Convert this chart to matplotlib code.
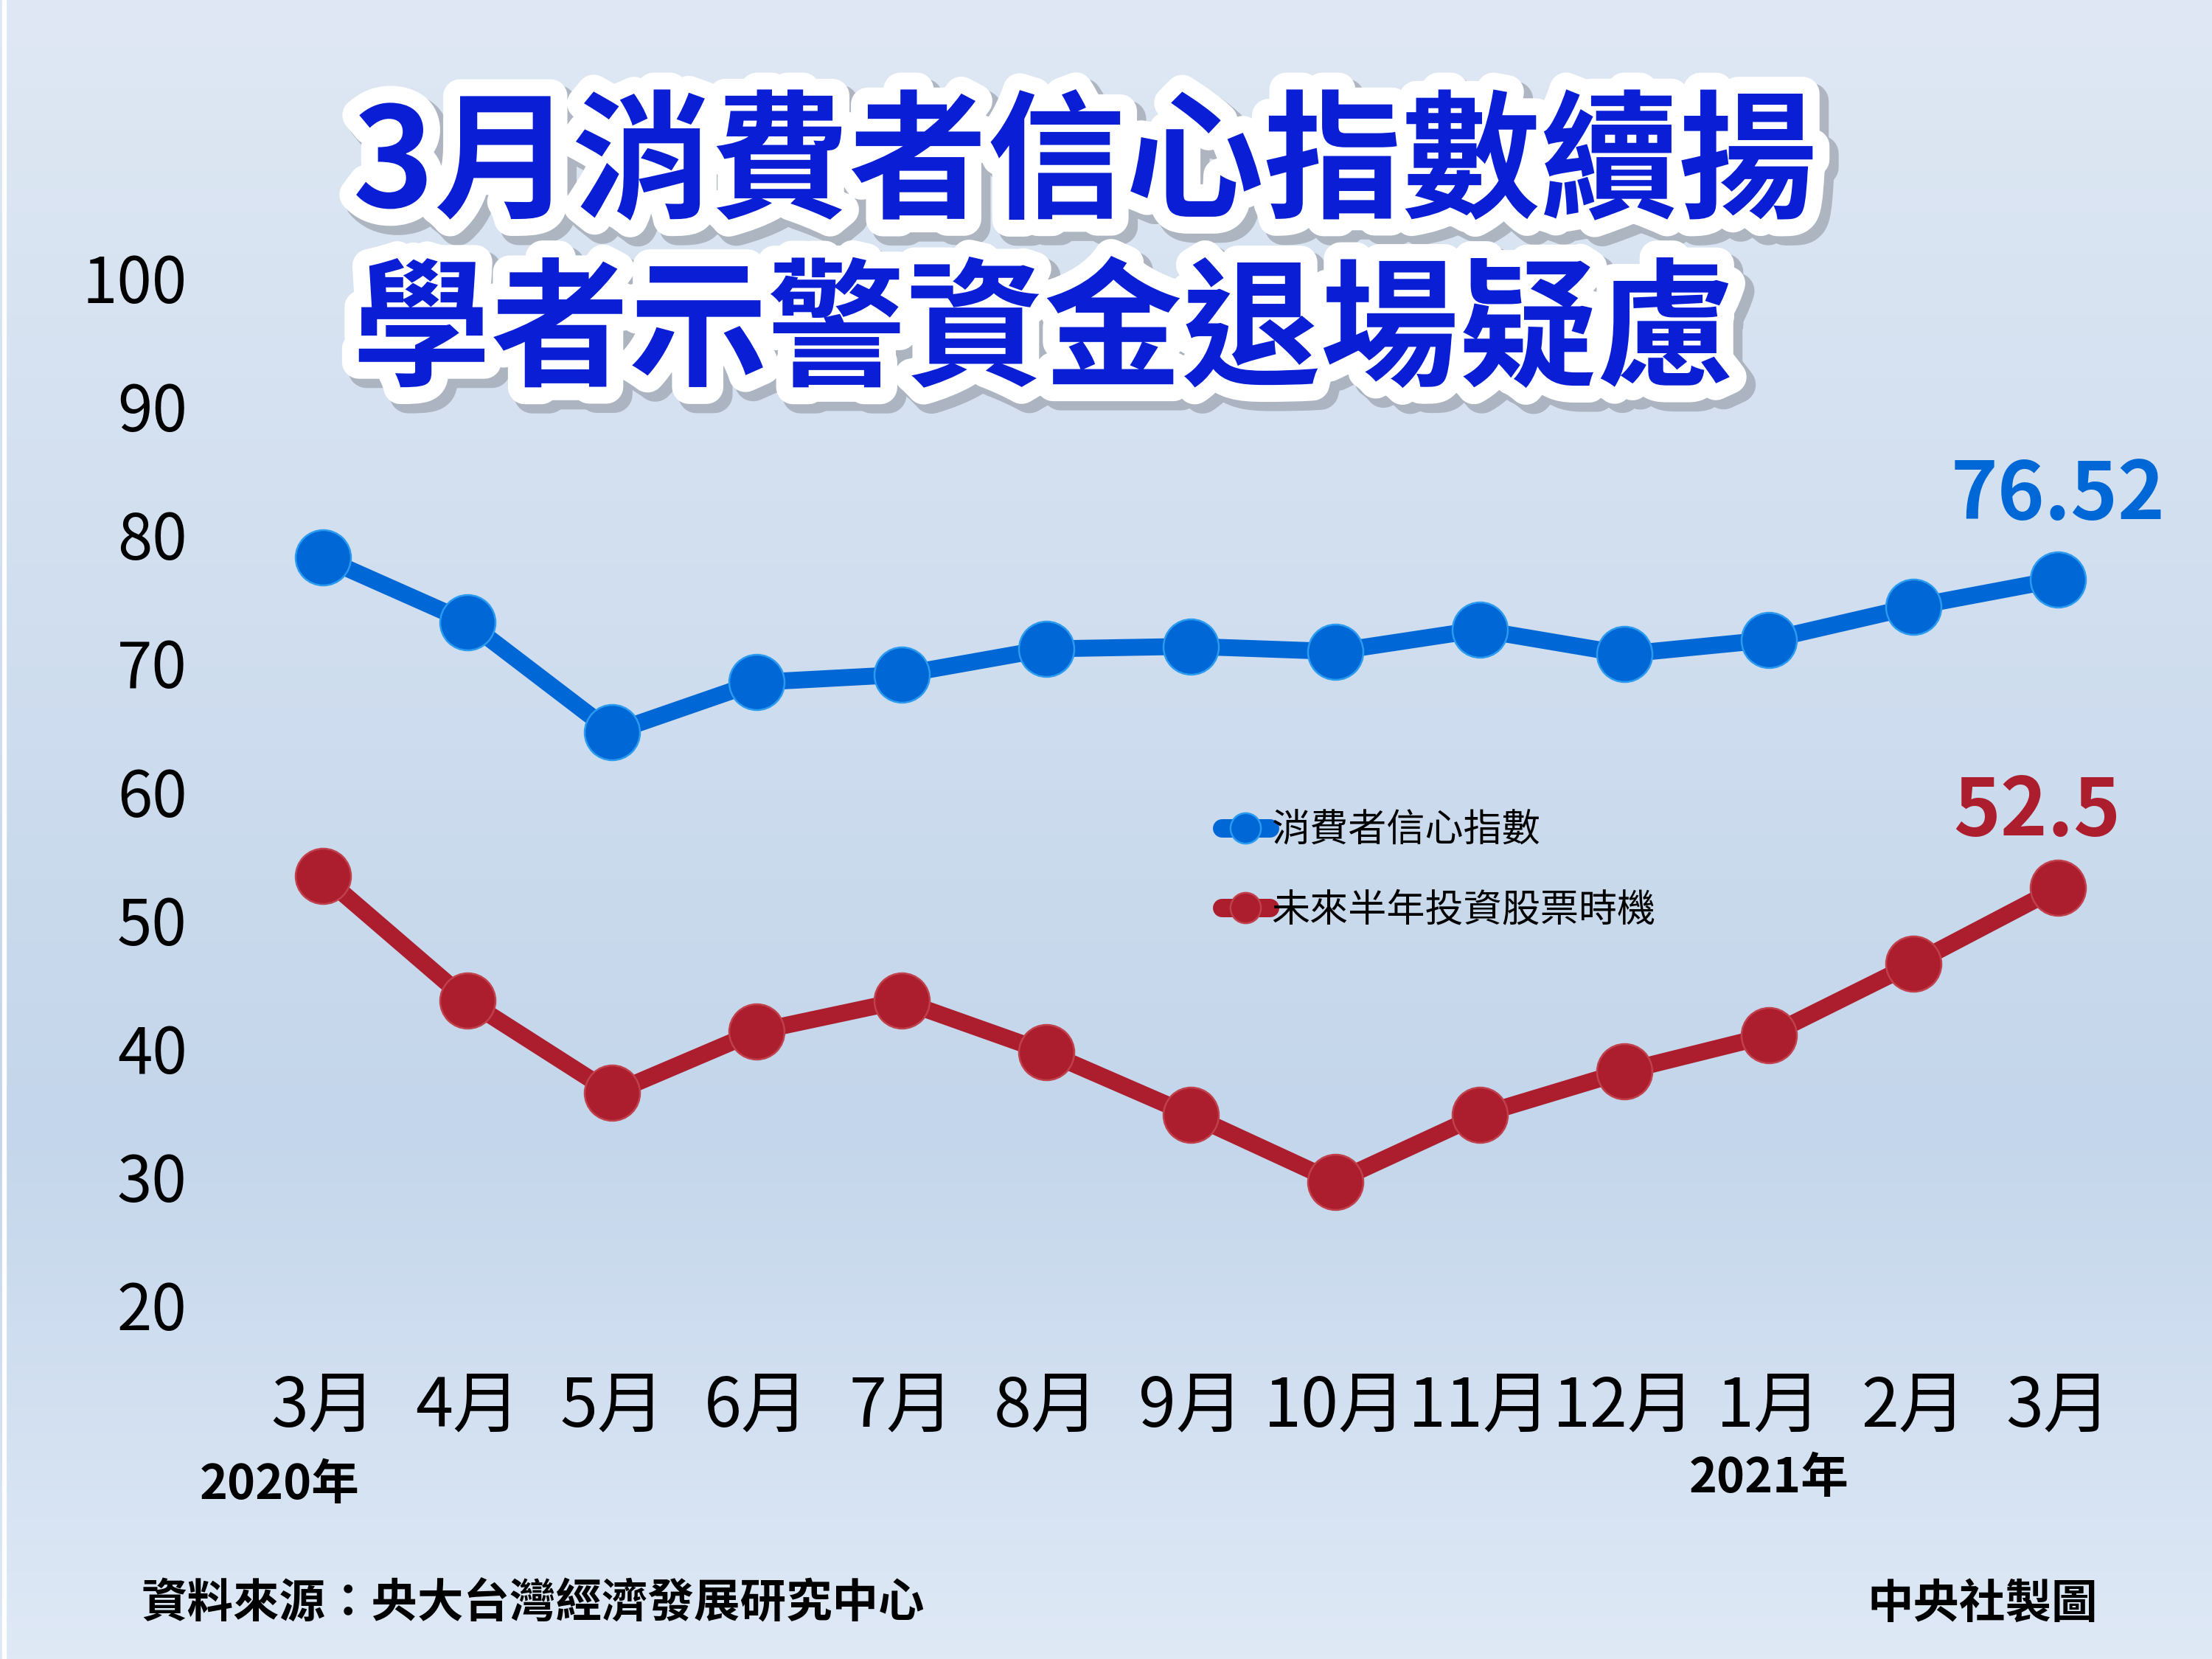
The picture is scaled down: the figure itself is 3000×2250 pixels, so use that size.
import matplotlib
matplotlib.use("Agg")
import matplotlib.pyplot as plt
import matplotlib.patheffects as pe
import numpy as np

plt.rcParams['font.family'] = ['Noto Sans CJK TC', 'DejaVu Sans']

# data
months = ['3月', '4月', '5月', '6月', '7月', '8月', '9月', '10月', '11月', '12月', '1月', '2月', '3月']
cci = [78.2, 73.2, 64.6, 68.5, 69.1, 71.1, 71.3, 70.9, 72.6, 70.7, 71.8, 74.4, 76.52]
stock = [53.4, 43.7, 36.5, 41.3, 43.7, 39.7, 34.8, 29.6, 34.8, 38.2, 41.0, 46.6, 52.5]
yticks = [20, 30, 40, 50, 60, 70, 80, 90, 100]
year_labels = ['2020年', '2021年']
year_pos = [-0.3, 10.0]

blue = '#0068d6'
red = '#ac1e2d'

fig = plt.figure(figsize=(10, 7.5), dpi=300)

# background gradient
bg = fig.add_axes([0, 0, 1, 1], zorder=-10)
stops = np.array([0.0, 0.68, 1.0])
cols = np.array([[0xdf, 0xe8, 0xf4], [0xc4, 0xd6, 0xeb], [0xdf, 0xe9, 0xf6]]) / 255
yy = np.linspace(0, 1, 400)
grad = np.stack([np.interp(yy, stops, cols[:, k]) for k in range(3)], axis=-1)
bg.imshow(grad[:, None, :], aspect='auto', extent=[0, 1, 0, 1], origin='upper')
bg.axvline(0.002, color='white', lw=1.5)
bg.set_axis_off()

# main axes, placed so points line up with the reference
W, H = 1568, 1176
L, R = 150, 1540
x0, dx = 229, 102.5
ax = fig.add_axes([L / W, 1 - 925 / H, (R - L) / W, (925 - 197) / H])
ax.set_xlim((L - x0) / dx, (R - x0) / dx)
ax.set_ylim(20, 100)
ax.patch.set_alpha(0)
for s in ax.spines.values():
    s.set_visible(False)

x = np.arange(len(months))
ax.plot(x, cci, color=blue, lw=5.5, marker='o', ms=18, mec='#2a9bf0', mew=0.6,
        solid_capstyle='round', clip_on=False, label='消費者信心指數', zorder=3)
ax.plot(x, stock, color=red, lw=5.5, marker='o', ms=18, mec='#c0404c', mew=0.6,
        solid_capstyle='round', clip_on=False, label='未來半年投資股票時機', zorder=3)

ax.set_yticks(yticks)
ax.set_yticklabels([str(v) for v in yticks], fontsize=20.5)
ax.tick_params(axis='y', length=0, pad=8)
ax.set_xticks(x)
ax.set_xticklabels(months, fontsize=22)
ax.tick_params(axis='x', length=0, pad=22)

for yl, yp, yy_ in zip(year_labels, year_pos, [1053, 1048]):
    fig.text((x0 + dx * yp) / W, 1 - yy_ / H, yl, fontsize=15.5, fontweight='bold',
             ha='center', va='center')

# last values
ax.annotate(f'{cci[-1]:.2f}', (x[-1], cci[-1]), xytext=(0, 14), textcoords='offset points',
            ha='center', va='bottom', fontsize=26, fontweight='bold', color=blue)
ax.annotate(f'{stock[-1]}', (x[-1], stock[-1]), xytext=(-7, 11.5), textcoords='offset points',
            ha='center', va='bottom', fontsize=26, fontweight='bold', color=red)

leg = ax.legend(loc='center left', bbox_to_anchor=(866 / W, 1 - 617 / H),
                bbox_transform=fig.transFigure, frameon=False, fontsize=12.5,
                handlelength=1.25, handletextpad=0.05, labelspacing=1.05,
                borderpad=0, borderaxespad=0, markerscale=0.55)
for h in leg.legend_handles:
    h.set_linewidth(6)
    h.set_solid_capstyle('round')

# title
fx = [pe.Stroke(linewidth=12, foreground='#8a8f99', alpha=0.55, offset=(2.5, -2.5)),
      pe.Stroke(linewidth=11, foreground='white'), pe.Normal()]
for txt, yc in [('3月消費者信心指數續揚', 118), ('學者示警資金退場疑慮', 237)]:
    fig.text(250 / W, 1 - yc / H, txt, fontsize=45, fontweight='bold', color='#0a1ed6',
             ha='left', va='center', path_effects=fx)

# footer
fig.text(100 / W, 1 - 1137 / H, '資料來源：央大台灣經濟發展研究中心', fontsize=15,
         fontweight='bold', ha='left', va='center')
fig.text(1487 / W, 1 - 1137 / H, '中央社製圖', fontsize=15, fontweight='bold',
         ha='right', va='center')

fig.savefig('out.png', dpi=300)
